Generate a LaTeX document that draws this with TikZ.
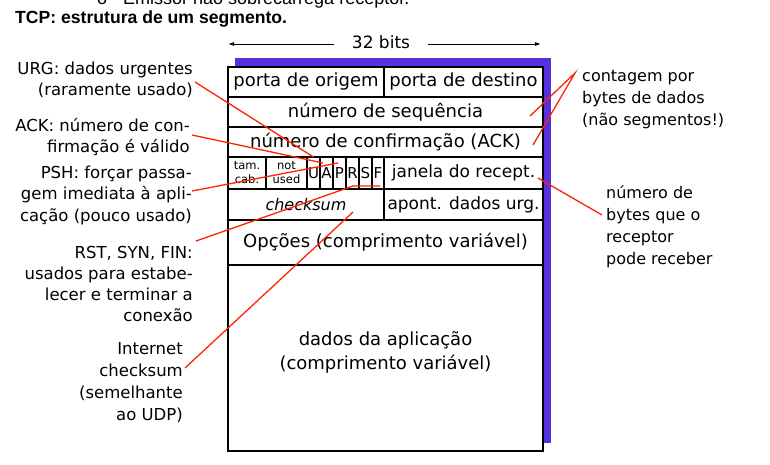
\documentclass[tikz,border=0pt]{standalone}
\usepackage{fontspec}
\setmainfont{DejaVu Sans}
\newfontfamily\arialf{Liberation Sans}
\usetikzlibrary{arrows.meta,calc}
\definecolor{shadowblue}{RGB}{85,50,220}
\definecolor{callred}{RGB}{255,35,0}
\begin{document}
\begin{tikzpicture}[x=1pt,y=-1pt,
  lbl/.style={align=right,anchor=base east,inner sep=0pt,font=\fontsize{16.5}{21.5}\selectfont},
  rlbl/.style={align=left,anchor=base west,inner sep=0pt,font=\fontsize{16}{22}\selectfont},
  cell/.style={draw=black,line width=1.2pt,inner sep=0pt,outer sep=0pt,font=\fontsize{18}{22}\selectfont},
  midfont/.style={font=\fontsize{17}{22}\selectfont},
  smallcell/.style={font=\fontsize{11.5}{14}\selectfont,align=center},
  flag/.style={font=\fontsize{15}{18}\selectfont},
  call/.style={draw=callred,line width=1.3pt},
  dimarrow/.style={line width=0.9pt,-{Latex[length=6pt,width=4pt]}}]
\useasboundingbox (0,0) rectangle (770,464);
\clip (0,0) rectangle (770,464);

% headings
\node[anchor=base west,inner sep=0pt,font=\arialf\fontsize{18}{20}\selectfont] (bullet) at (97,4) {o};
\node[anchor=base west,inner sep=0pt,font=\arialf\fontsize{18}{20}\selectfont] (prev) at (123,4) {Emissor não sobrecarrega receptor.};
\node[anchor=base west,inner sep=0pt,font=\arialf\bfseries\fontsize{17.6}{20}\selectfont] (title) at (15,23) {TCP: estrutura de um segmento.};

% 32 bits
\node[inner ysep=0pt,inner xsep=18pt,font=\fontsize{17}{20}\selectfont] (bits) at (381,42) {32 bits};
\coordinate (bL) at (228,44);
\coordinate (bR) at (541,44);
\draw[dimarrow] (bits.west |- bL) -- (bL);
\draw[dimarrow] (bits.east |- bR) -- (bR);

% shadow and frame
\fill[shadowblue] (235,58) rectangle (551,443);
\fill[white] (228,67) rectangle (543,451);

% cells
\node[cell,minimum width=156pt,minimum height=30pt] (po) at (306,82) {porta de origem};
\node[cell,minimum width=159pt,minimum height=30pt] (pd) at (463.5,82) {porta de destino};
\node[cell,minimum width=315pt,minimum height=30pt] (seq) at (385.5,112) {número de sequência};
\node[cell,minimum width=315pt,minimum height=30pt] (ack) at (385.5,142) {número de confirmação (ACK)};
\node[cell,smallcell,minimum width=38pt,minimum height=32pt] (tam) at (247,173) {tam.\\cab.};
\node[cell,smallcell,minimum width=41pt,minimum height=32pt] (nu) at (286.5,173) {not\\used};
\node[cell,flag,minimum width=13pt,minimum height=32pt] (U) at (313.5,173) {U};
\node[cell,flag,minimum width=13pt,minimum height=32pt] (A) at (326.5,173) {A};
\node[cell,flag,minimum width=13pt,minimum height=32pt] (P) at (339.5,173) {P};
\node[cell,flag,minimum width=13pt,minimum height=32pt] (R) at (352.5,173) {R};
\node[cell,flag,minimum width=13pt,minimum height=32pt] (S) at (365.5,173) {S};
\node[cell,flag,minimum width=12pt,minimum height=32pt] (F) at (378,173) {F};
\node[cell,midfont,minimum width=159pt,minimum height=32pt] (jan) at (463.5,173) {janela do recept.};
\node[cell,font=\itshape\fontsize{16}{20}\selectfont,minimum width=156pt,minimum height=31pt] (cks) at (306,204.5) {checksum};
\node[cell,midfont,minimum width=159pt,minimum height=31pt] (apo) at (463.5,204.5) {apont. dados urg.};
\node[cell,minimum width=315pt,minimum height=45pt] (opc) at (385.5,242.5) {Opções (comprimento variável)};
\node[cell,minimum width=315pt,minimum height=186pt] (dad) at (385.5,358) {};
\node[align=center,inner sep=0pt,font=\fontsize{18}{24}\selectfont] (dadt) at (385.5,352) {dados da aplicação\\(comprimento variável)};

% left labels (base anchor = baseline of last line)
\node[lbl] (urg) at (193,95.5) {URG: dados urgentes\\(raramente usado)};
\node[lbl] (ackl) at (190,152.5) {ACK: número de con-\\firmação é válido};
\node[lbl] (psh) at (192,221) {PSH: forçar passa-\\gem imediata à apli-\\cação (pouco usado)};
\node[lbl,font=\fontsize{16.5}{21}\selectfont] (rst) at (193,321) {RST, SYN, FIN:\\usados para estabe-\\lecer e terminar a\\conexão};
\node[lbl,font=\fontsize{16.5}{21.7}\selectfont] (inet) at (183,420) {Internet\\checksum\\(semelhante\\ao UDP)};

% right labels
\node[rlbl] (cont) at (582,125) {contagem por\\bytes de dados\\(não segmentos!)};
\node[rlbl] (nbytes) at (606,264) {número de\\bytes que o\\receptor\\pode receber};

% callout lines
\coordinate (contApex) at (575,73);
\coordinate (seqEnd) at (530,116);
\coordinate (ackEnd) at (533,145);
\coordinate (janEnd) at (538,178);
\coordinate (nbStart) at (602,215);
\coordinate (urgS) at (195,82);
\coordinate (ackS) at (192,135);
\coordinate (pshS) at (192,191);
\coordinate (rstS) at (196,241);
\coordinate (inetS) at (185,368);
\coordinate (rsfMid) at (353,186);
\coordinate (rsfEnd) at (380,186);
\coordinate (ackFlag) at (323,163);
\coordinate (pshFlag) at (338,163);
\coordinate (cksEnd) at (353,212);

\draw[call] (urgS) -- (U.north);
\draw[call] (ackS) -- (ackFlag);
\draw[call] (pshS) -- (pshFlag);
\draw[call] (rstS) -- (rsfMid) -- (rsfEnd);
\draw[call] (inetS) -- (cksEnd);
\draw[call] (seqEnd) -- (contApex) -- (ackEnd);
\draw[call] (janEnd) -- (nbStart);
\end{tikzpicture}
\end{document}
